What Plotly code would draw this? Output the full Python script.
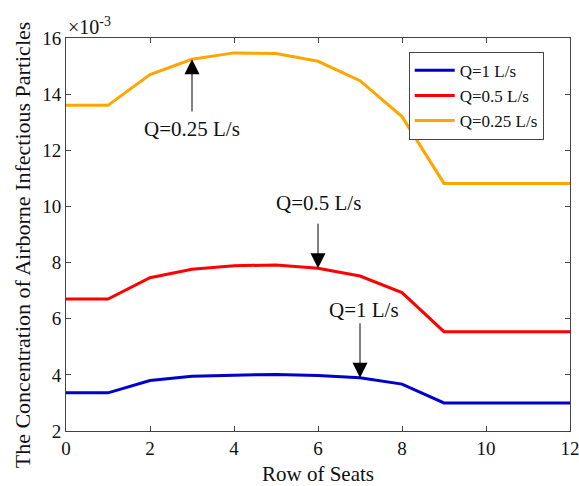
import plotly.graph_objects as go

rows = list(range(13))
q1 = [3.36, 3.36, 3.80, 3.95, 3.99, 4.01, 3.98, 3.90, 3.67, 3.00, 3.00, 3.00, 3.00]
q05 = [6.70, 6.70, 7.46, 7.76, 7.89, 7.91, 7.80, 7.52, 6.93, 5.54, 5.54, 5.54, 5.54]
q025 = [13.60, 13.60, 14.70, 15.24, 15.47, 15.45, 15.17, 14.48, 13.20, 10.82, 10.82, 10.82, 10.82]
names = ["Q=1 L/s", "Q=0.5 L/s", "Q=0.25 L/s"]
colors = ["#0000CC", "#FF0000", "#FFA500"]
xticks = [0, 2, 4, 6, 8, 10, 12]
yticks = [2, 4, 6, 8, 10, 12, 14, 16]

FONT = "Liberation Serif, Times New Roman, serif"

fig = go.Figure()
for ys, nm, c in zip([q1, q05, q025], names, colors):
    fig.add_trace(go.Scatter(x=rows, y=ys, mode="lines", name=nm,
                             line=dict(color=c, width=3)))

axis_common = dict(showline=True, linecolor="#444", linewidth=1, mirror="ticks",
                   ticks="inside", ticklen=5, tickcolor="#444", showgrid=False,
                   zeroline=False, automargin=False, ticklabeloverflow="allow",
                   tickfont=dict(family=FONT, size=19, color="#111"))

fig.update_xaxes(range=[0, 12], tickvals=xticks, **axis_common,
                 title=dict(text="Row of Seats", font=dict(family=FONT, size=21, color="#111")))
fig.update_yaxes(range=[2, 16], tickvals=yticks, **axis_common)

# y-axis title as rotated annotation
fig.add_annotation(x=-0.087, y=0.473, xref="paper", yref="paper", textangle=-90,
                   text="The Concentration of Airborne Infectious Particles", showarrow=False,
                   xanchor="center", yanchor="middle",
                   font=dict(family=FONT, size=22, color="#111"))

# arrows (tail -> head on curve)
arrows = [(3, 13.33, 3, q025[3]), (6, 9.44, 6, q05[6]), (7, 5.89, 7, q1[7])]
for ax_, ay_, x_, y_ in arrows:
    fig.add_annotation(x=x_, y=y_, ax=ax_, ay=ay_, axref="x", ayref="y", xref="x", yref="y",
                       text="", showarrow=True, arrowhead=2, arrowsize=3, arrowwidth=1,
                       arrowcolor="black", standoff=0)

labels = [(3, 12.77, "Q=0.25 L/s"), (6, 10.13, "Q=0.5 L/s"), (7.1, 6.31, "Q=1 L/s")]
for x_, y_, t in labels:
    fig.add_annotation(x=x_, y=y_, text=t, showarrow=False, xref="x", yref="y",
                       font=dict(family=FONT, size=21, color="#111"))

fig.add_annotation(x=0, y=1, xref="paper", yref="paper", xanchor="left", yanchor="bottom",
                   text="×10<sup>-3</sup>", showarrow=False, yshift=-2,
                   font=dict(family=FONT, size=20, color="#111"))

fig.update_layout(
    width=579, height=486,
    margin=dict(l=66, r=9, t=38, b=55),
    plot_bgcolor="white", paper_bgcolor="white",
    font=dict(family=FONT, size=19, color="#111"),
    legend=dict(x=0.68, y=0.965, xanchor="left", yanchor="top",
                bordercolor="#444", borderwidth=1, bgcolor="white",
                font=dict(family=FONT, size=17, color="#111"),
                itemwidth=40, tracegroupgap=0),
    showlegend=True,
)

fig.write_html("out.html")
